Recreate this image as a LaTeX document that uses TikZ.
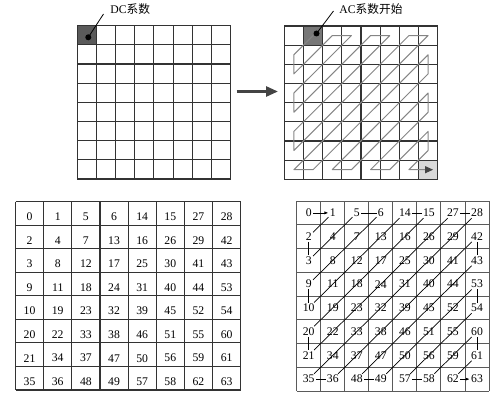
\documentclass[tikz,border=0pt]{standalone}
\usepackage{fontspec}
\setmainfont{Liberation Serif}
\newfontfamily\cjk{Noto Sans CJK SC}
\usetikzlibrary{arrows.meta}
\definecolor{gray3}{HTML}{333333}
\definecolor{gray4}{HTML}{444444}
\definecolor{gray5}{HTML}{5a5a5a}
\definecolor{gray7}{HTML}{777777}
\definecolor{gray8}{HTML}{858585}
\definecolor{gray13}{HTML}{d9d9d9}

\begin{document}
\begin{tikzpicture}[x=1pt, y=-1pt, line join=round,
  gridline/.style={draw=gray3, line width=1.1pt},
  num/.style={font=\fontsize{11.7}{14}\selectfont, inner sep=1.2pt},
  lbl/.style={font=\fontsize{11.7}{14}\selectfont, inner sep=0pt}]
\useasboundingbox (0,0) rectangle (503,404);

% DCT block, DC coefficient
\begin{scope}[shift={(77.3,25.7)}, x=19.16pt, y=-19.16pt]
\fill[gray5] (0,0) rectangle (1,1);
\foreach \i in {0,...,8} {
  \draw[gridline] (\i,0) -- (\i,8);
  \draw[gridline] (0,\i) -- (8,\i);
}
\end{scope}
\node[lbl] (dc) at (130.3,9) {DC\cjk 系数};
\coordinate (dcdot) at (88.3,37.3);
\coordinate (dcend) at (103.5,14);
\fill (dcdot) circle (3);
\draw[line width=0.8pt] (dcdot) -- (dcend);

% arrow between blocks
\coordinate (arrA) at (236.5,91.5);
\coordinate (arrB) at (278,91.5);
\draw[gray4, line width=2.6pt, -{Triangle[length=12pt,width=10pt]}] (arrA) -- (arrB);

% zigzag scan over the block
\begin{scope}[shift={(284.3,26)}, x=19.17pt, y=-19.16pt]
\fill[gray7] (1,0) rectangle (2,1);
\fill[gray13] (7,7) rectangle (8,8);
\foreach \i in {0,...,8} {
  \draw[gridline] (\i,0) -- (\i,8);
  \draw[gridline] (0,\i) -- (8,\i);
}
\foreach \r in {0,...,7}
  \foreach \c in {0,...,7}
    \coordinate (g-\r-\c) at (\c+0.5,\r+0.5);
\draw[gray8, line width=1pt, -{Triangle[length=8pt,width=7pt,color=gray4]}]
  (g-0-1) -- (g-1-0) -- (g-2-0) -- (g-0-2) -- (g-0-3) -- (g-3-0)
  -- (g-4-0) -- (g-0-4) -- (g-0-5) -- (g-5-0) -- (g-6-0) -- (g-0-6)
  -- (g-0-7) -- (g-7-0) -- (g-7-1) -- (g-1-7) -- (g-2-7) -- (g-7-2)
  -- (g-7-3) -- (g-3-7) -- (g-4-7) -- (g-7-4) -- (g-7-5) -- (g-5-7)
  -- (g-6-7) -- (g-7-6) -- ([xshift=5pt]g-7-7);
\end{scope}
\node[lbl] (ac) at (371,8.7) {AC\cjk 系数开始};
\coordinate (acdot) at (316.5,33.5);
\coordinate (acend) at (333.5,11);
\fill (acdot) circle (3);
\draw[line width=0.8pt] (acdot) -- (acend);

% zigzag order table
\begin{scope}[shift={(15.5,201.5)}, x=28.15pt, y=-23.56pt]
\foreach \i in {0,...,8} {
  \draw[gridline] (\i,0) -- (\i,8);
  \draw[gridline] (0,\i) -- (8,\i);
}
\foreach \vals [count=\r from 0] in {{0,1,5,6,14,15,27,28},{2,4,7,13,16,26,29,42},
    {3,8,12,17,25,30,41,43},{9,11,18,24,31,40,44,53},{10,19,23,32,39,45,52,54},
    {20,22,33,38,46,51,55,60},{21,34,37,47,50,56,59,61},{35,36,48,49,57,58,62,63}}
  \foreach \v [count=\c from 0] in \vals
    \node[num] (l\v) at (\c+0.5,\r+0.65) {\v};
\end{scope}

% same table with the scan path
\begin{scope}[shift={(296.7,201)}, x=24.04pt, y=-23.75pt]
\foreach \i in {0,...,8} {
  \draw[gridline, draw=gray5, line width=0.9pt] (\i,0) -- (\i,8);
  \draw[gridline, draw=gray5, line width=0.9pt] (0,\i) -- (8,\i);
}
\foreach \vals [count=\r from 0] in {{0,1,5,6,14,15,27,28},{2,4,7,13,16,26,29,42},
    {3,8,12,17,25,30,41,43},{9,11,18,24,31,40,44,53},{10,19,23,32,39,45,52,54},
    {20,22,33,38,46,51,55,60},{21,34,37,47,50,56,59,61},{35,36,48,49,57,58,62,63}}
  \foreach \v [count=\c from 0] in \vals
    \node[num] (z\v) at (\c+0.5,\r+0.5) {\v};
\foreach \a/\b in {1/2,2/3,3/5,5/6,6/9,9/10,10/14,14/15,15/20,20/21,21/27,27/28,
    28/35,35/36,36/42,42/43,43/48,48/49,49/53,53/54,54/57,57/58,58/60,60/61,61/62}
  \draw[line width=0.7pt] (z\a) -- (z\b);
\draw[line width=0.7pt, -{Latex[length=4pt,width=3pt]}] (z0) -- (z1);
\draw[line width=0.7pt, -{Latex[length=4pt,width=3pt]}] (z62) -- (z63);
\end{scope}
\end{tikzpicture}
\end{document}
